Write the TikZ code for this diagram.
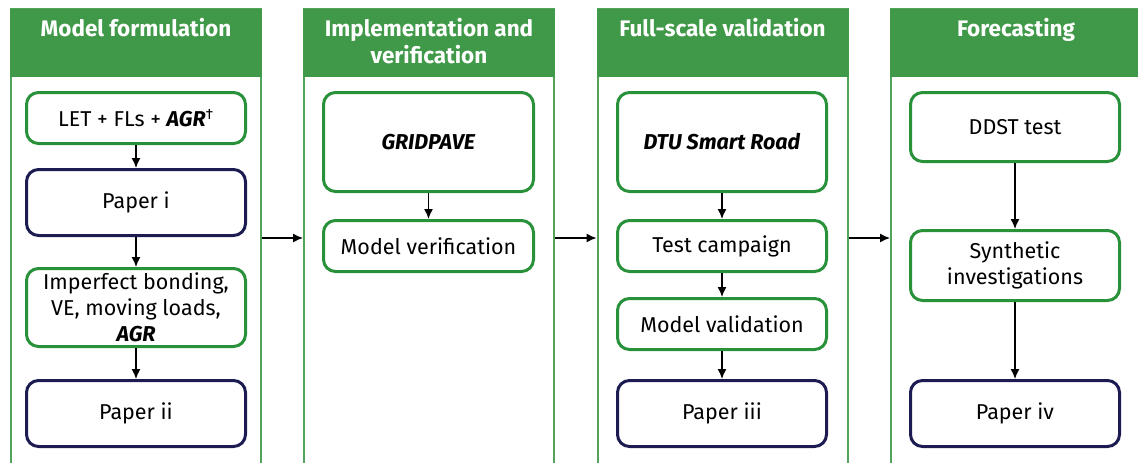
\documentclass[tikz,border=0pt]{standalone}
\usepackage{fontspec}
\setmainfont{Fira Sans}
\usepackage{tikz}
\usetikzlibrary{positioning,arrows.meta}

\definecolor{dtugreen}{RGB}{64,153,72}
\definecolor{boxgreen}{RGB}{40,145,58}
\definecolor{papernavy}{RGB}{28,28,82}

\begin{document}
\begin{tikzpicture}[x=1pt,y=-1pt,
  col/.style={draw=dtugreen!90,line width=2pt,minimum width=250pt,minimum height=458pt,inner sep=0pt},
  head/.style={fill=dtugreen,minimum width=252pt,minimum height=68pt,inner sep=0pt},
  headtxt/.style={anchor=north,text=white,font=\bfseries\fontsize{22.5}{27}\selectfont,align=center,inner sep=0pt},
  gbox/.style={draw=boxgreen,line width=3pt,rounded corners=12pt,fill=white,align=center,inner sep=2pt,font=\fontsize{21.5}{26}\selectfont},
  pbox/.style={gbox,draw=papernavy},
  flow/.style={-{Latex[length=10pt,width=9pt]},line width=1.4pt}
]
\useasboundingbox (0,0) rectangle (1138,463);
\clip (0,0) rectangle (1138,463);

% Columns
\node[col] (col1) at (136,238) {};
\node[col] (col2) at (429,238) {};
\node[col] (col3) at (722.5,238) {};
\node[col] (col4) at (1016,238) {};

% Headers
\node[head] (hd1) at (136,43) {};
\node[headtxt] at ([yshift=-9pt]hd1.north) {Model formulation};
\node[head] (hd2) at (429,43) {};
\node[headtxt] at ([yshift=-9pt]hd2.north) {Implementation and\\verification};
\node[head] (hd3) at (722.5,43) {};
\node[headtxt] at ([yshift=-9pt]hd3.north) {Full-scale validation};
\node[head] (hd4) at (1016,43) {};
\node[headtxt] at ([yshift=-9pt]hd4.north) {Forecasting};

% Model formulation
\node[gbox,minimum width=219pt,minimum height=51pt] (let) at (136,118) {LET + FLs + \textbf{\textit{AGR}}\textsuperscript{\dag}};
\node[pbox,minimum width=219pt,minimum height=66pt] (pi) at (136,202.5) {Paper i};
\node[gbox,minimum width=219pt,minimum height=78pt] (bond) at (136,307.5) {Imperfect bonding,\\VE, moving loads,\\\textbf{\textit{AGR}}};
\node[pbox,minimum width=219pt,minimum height=66pt] (pii) at (136,413.5) {Paper ii};

% Implementation and verification
\node[gbox,minimum width=210pt,minimum height=99pt] (grid) at (428.5,142) {\textbf{\textit{GRIDPAVE}}};
\node[gbox,minimum width=210pt,minimum height=51pt] (verif) at (428.5,246) {Model verification};

% Full-scale validation
\node[gbox,minimum width=209pt,minimum height=99pt] (road) at (722,142) {\textbf{\textit{DTU Smart Road}}};
\node[gbox,minimum width=209pt,minimum height=51pt] (camp) at (722,246) {Test campaign};
\node[gbox,minimum width=209pt,minimum height=51pt] (valid) at (722,324) {Model validation};
\node[pbox,minimum width=209pt,minimum height=66pt] (piii) at (722,413.5) {Paper iii};

% Forecasting
\node[gbox,minimum width=209pt,minimum height=69pt] (ddst) at (1015,127) {DDST test};
\node[gbox,minimum width=209pt,minimum height=70pt] (synth) at (1015,265.5) {Synthetic\\investigations};
\node[pbox,minimum width=209pt,minimum height=66pt] (piv) at (1015,413.5) {Paper iv};

% Arrows inside columns
\draw[flow] (let) -- (pi);
\draw[flow] (pi) -- (bond);
\draw[flow] (bond) -- (pii);
\draw[flow] (grid) -- (verif);
\draw[flow] (road) -- (camp);
\draw[flow] (camp) -- (valid);
\draw[flow] (valid) -- (piii);
\draw[flow] (ddst) -- (synth);
\draw[flow] (synth) -- (piv);

% Arrows between columns
\draw[flow] (col1) -- (col2);
\draw[flow] (col2) -- (col3);
\draw[flow] (col3) -- (col4);
\end{tikzpicture}
\end{document}
